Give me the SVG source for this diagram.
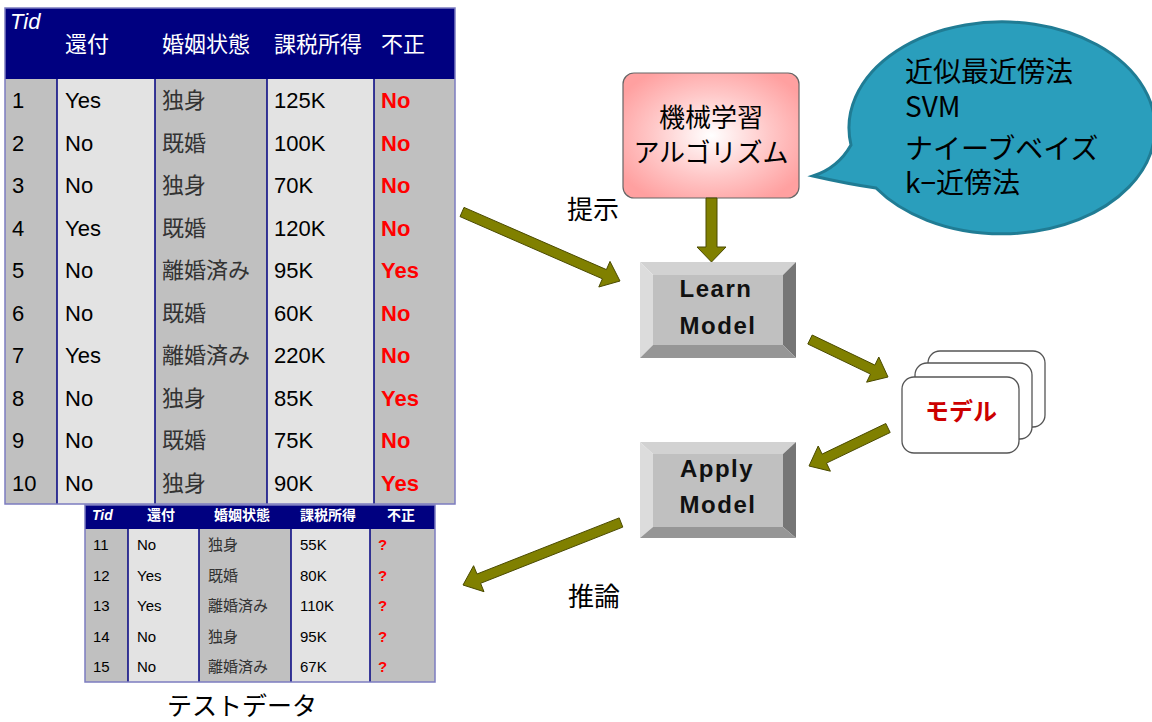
<svg xmlns="http://www.w3.org/2000/svg" width="1152" height="722" viewBox="0 0 1152 722">
<defs>
<radialGradient id="pink" cx="0.5" cy="0.5" r="0.6">
<stop offset="0" stop-color="#FFFFFF"/>
<stop offset="0.55" stop-color="#FFC8C8"/>
<stop offset="1" stop-color="#FFA0A0"/>
</radialGradient>
</defs>
<style>
.hd{fill:#000080}
.g{fill:#C0C0C0}
.l{fill:#E3E3E3}
.cl{stroke:#000080;stroke-width:1.5}
.ob{fill:none;stroke:#7C7CC0;stroke-width:1.5}
.ht{font-family:"Liberation Sans","Noto Sans CJK JP",sans-serif;font-size:22px;fill:#FFFFFF}
.t{font-family:"Liberation Sans","Noto Sans CJK JP",sans-serif;font-size:22px;fill:#000}
.tj{font-family:"Noto Sans CJK JP",sans-serif;font-size:22px;fill:#333}
.tr{font-family:"Liberation Sans",sans-serif;font-size:22px;fill:#FF0000;font-weight:bold}
.sht{font-family:"Liberation Sans","Noto Sans CJK JP",sans-serif;font-size:14px;fill:#FFFFFF;font-weight:bold}
.st{font-family:"Liberation Sans",sans-serif;font-size:15px;fill:#000}
.stj{font-family:"Noto Sans CJK JP",sans-serif;font-size:15px;fill:#333}
.str{font-family:"Liberation Sans",sans-serif;font-size:15px;fill:#FF0000;font-weight:bold}
.jp{font-family:"Noto Sans CJK JP",sans-serif;fill:#000}
.btn{font-family:"Liberation Sans",sans-serif;font-size:24px;font-weight:bold;fill:#111;letter-spacing:1.5px}
.arr{fill:#808000;stroke:#4A4A00;stroke-width:1}
.card{fill:#FFFFFF;stroke:#555;stroke-width:1.3}
</style>

<g id="train-table">
<rect x="5" y="8" width="450" height="71" class="hd"/>
<rect x="5" y="79" width="52" height="425" class="g"/>
<rect x="57" y="79" width="98" height="425" class="l"/>
<rect x="155" y="79" width="112" height="425" class="g"/>
<rect x="267" y="79" width="107" height="425" class="l"/>
<rect x="374" y="79" width="81" height="425" class="g"/>
<line x1="57" y1="79" x2="57" y2="504" class="cl"/>
<line x1="155" y1="79" x2="155" y2="504" class="cl"/>
<line x1="267" y1="79" x2="267" y2="504" class="cl"/>
<line x1="374" y1="79" x2="374" y2="504" class="cl"/>
<rect x="5" y="8" width="450" height="496" class="ob"/>
<text x="10" y="29" class="ht" font-style="italic" font-size="21">Tid</text>
<text x="65" y="52" class="ht">還付</text>
<text x="162" y="52" class="ht">婚姻状態</text>
<text x="274" y="52" class="ht">課税所得</text>
<text x="381" y="52" class="ht">不正</text>
<g>
<text x="12" y="108" class="t">1</text><text x="65" y="108" class="t">Yes</text><text x="162" y="108" class="tj">独身</text><text x="274" y="108" class="t">125K</text><text x="381" y="108" class="tr">No</text>
<text x="12" y="150.5" class="t">2</text><text x="65" y="150.5" class="t">No</text><text x="162" y="150.5" class="tj">既婚</text><text x="274" y="150.5" class="t">100K</text><text x="381" y="150.5" class="tr">No</text>
<text x="12" y="193" class="t">3</text><text x="65" y="193" class="t">No</text><text x="162" y="193" class="tj">独身</text><text x="274" y="193" class="t">70K</text><text x="381" y="193" class="tr">No</text>
<text x="12" y="235.5" class="t">4</text><text x="65" y="235.5" class="t">Yes</text><text x="162" y="235.5" class="tj">既婚</text><text x="274" y="235.5" class="t">120K</text><text x="381" y="235.5" class="tr">No</text>
<text x="12" y="278" class="t">5</text><text x="65" y="278" class="t">No</text><text x="162" y="278" class="tj">離婚済み</text><text x="274" y="278" class="t">95K</text><text x="381" y="278" class="tr">Yes</text>
<text x="12" y="320.5" class="t">6</text><text x="65" y="320.5" class="t">No</text><text x="162" y="320.5" class="tj">既婚</text><text x="274" y="320.5" class="t">60K</text><text x="381" y="320.5" class="tr">No</text>
<text x="12" y="363" class="t">7</text><text x="65" y="363" class="t">Yes</text><text x="162" y="363" class="tj">離婚済み</text><text x="274" y="363" class="t">220K</text><text x="381" y="363" class="tr">No</text>
<text x="12" y="405.5" class="t">8</text><text x="65" y="405.5" class="t">No</text><text x="162" y="405.5" class="tj">独身</text><text x="274" y="405.5" class="t">85K</text><text x="381" y="405.5" class="tr">Yes</text>
<text x="12" y="448" class="t">9</text><text x="65" y="448" class="t">No</text><text x="162" y="448" class="tj">既婚</text><text x="274" y="448" class="t">75K</text><text x="381" y="448" class="tr">No</text>
<text x="12" y="490.5" class="t">10</text><text x="65" y="490.5" class="t">No</text><text x="162" y="490.5" class="tj">独身</text><text x="274" y="490.5" class="t">90K</text><text x="381" y="490.5" class="tr">Yes</text>
</g>
</g>

<g id="test-table">
<rect x="85" y="505" width="350" height="24" class="hd"/>
<rect x="85" y="529" width="43" height="153" class="g"/>
<rect x="128" y="529" width="71" height="153" class="l"/>
<rect x="199" y="529" width="92" height="153" class="g"/>
<rect x="291" y="529" width="79" height="153" class="l"/>
<rect x="370" y="529" width="65" height="153" class="g"/>
<line x1="128" y1="529" x2="128" y2="682" class="cl"/>
<line x1="199" y1="529" x2="199" y2="682" class="cl"/>
<line x1="291" y1="529" x2="291" y2="682" class="cl"/>
<line x1="370" y1="529" x2="370" y2="682" class="cl"/>
<rect x="85" y="505" width="350" height="177" class="ob"/>
<text x="92" y="520" class="sht" font-style="italic">Tid</text>
<text x="147" y="520" class="sht">還付</text>
<text x="214" y="520" class="sht">婚姻状態</text>
<text x="300" y="520" class="sht">課税所得</text>
<text x="387" y="520" class="sht">不正</text>
<text x="93" y="550" class="st">11</text><text x="137" y="550" class="st">No</text><text x="208" y="550" class="stj">独身</text><text x="300" y="550" class="st">55K</text><text x="378" y="550" class="str">?</text>
<text x="93" y="580.5" class="st">12</text><text x="137" y="580.5" class="st">Yes</text><text x="208" y="580.5" class="stj">既婚</text><text x="300" y="580.5" class="st">80K</text><text x="378" y="580.5" class="str">?</text>
<text x="93" y="611" class="st">13</text><text x="137" y="611" class="st">Yes</text><text x="208" y="611" class="stj">離婚済み</text><text x="300" y="611" class="st">110K</text><text x="378" y="611" class="str">?</text>
<text x="93" y="641.5" class="st">14</text><text x="137" y="641.5" class="st">No</text><text x="208" y="641.5" class="stj">独身</text><text x="300" y="641.5" class="st">95K</text><text x="378" y="641.5" class="str">?</text>
<text x="93" y="672" class="st">15</text><text x="137" y="672" class="st">No</text><text x="208" y="672" class="stj">離婚済み</text><text x="300" y="672" class="st">67K</text><text x="378" y="672" class="str">?</text>
<text x="242" y="715" class="jp" font-size="25" text-anchor="middle">テストデータ</text>
</g>

<g id="ml-algorithm">
<rect x="623" y="73" width="176" height="125" rx="11" fill="url(#pink)" stroke="#666" stroke-width="1.2"/>
<text x="711" y="127" class="jp" font-size="26" text-anchor="middle">機械学習</text>
<text x="711" y="162" class="jp" font-size="26" text-anchor="middle">アルゴリズム</text>
</g>

<g id="algorithms-bubble">
<path d="M 851,145 Q 838,168 813,176 Q 848,184 876,188 A 153 106 0 1 0 851,145 Z" fill="#2A9EBC" stroke="#207C94" stroke-width="3"/>
<text x="905" y="82" class="jp" font-size="28">近似最近傍法</text>
<text x="905" y="117" class="jp" font-size="28">SVM</text>
<text x="905" y="159" class="jp" font-size="28">ナイーブベイズ</text>
<text x="905" y="193" class="jp" font-size="28">k−近傍法</text>
</g>

<g id="learn-model">
<polygon points="640,262 796,262 783,275 653,275" fill="#D2D2D2"/>
<polygon points="640,262 653,275 653,345 640,358" fill="#DCDCDC"/>
<polygon points="796,262 796,358 783,345 783,275" fill="#767676"/>
<polygon points="640,358 653,345 783,345 796,358" fill="#969696"/>
<rect x="653" y="275" width="130" height="70" fill="#C0C0C0"/>
<text x="716" y="297" class="btn" text-anchor="middle">Learn</text>
<text x="718" y="334" class="btn" text-anchor="middle">Model</text>
</g>

<g id="apply-model">
<polygon points="640,442 796,442 783,454 653,454" fill="#D2D2D2"/>
<polygon points="640,442 653,454 653,527 640,538" fill="#DCDCDC"/>
<polygon points="796,442 796,538 783,527 783,454" fill="#767676"/>
<polygon points="640,538 653,527 783,527 796,538" fill="#969696"/>
<rect x="653" y="454" width="130" height="73" fill="#C0C0C0"/>
<text x="717" y="477" class="btn" text-anchor="middle">Apply</text>
<text x="718" y="513" class="btn" text-anchor="middle">Model</text>
</g>

<g id="model">
<rect x="928" y="351" width="117" height="76" rx="12" class="card"/>
<rect x="915" y="363" width="117" height="76" rx="12" class="card"/>
<rect x="902" y="377" width="117" height="76" rx="12" class="card"/>
<text x="961" y="420" class="jp" font-size="24" font-weight="bold" text-anchor="middle" style="fill:#CC0000">モデル</text>
</g>

<g id="connectors">
<polygon class="arr" points="464.0,207.4 606.4,269.6 610.0,261.4 620,281 598.8,287.0 602.4,278.8 460.0,216.6"/>
<polygon class="arr" points="706,198 717,198 717,247 726,247 711.5,262 697,247 706,247"/>
<polygon class="arr" points="812.2,335.0 874.9,365.1 878.8,357.0 888,377 866.6,382.2 870.5,374.1 807.8,344.0"/>
<polygon class="arr" points="885.8,423.5 822.1,454.1 818.2,446.0 809,466 830.4,471.2 826.5,463.1 890.2,432.5"/>
<polygon class="arr" points="619.2,517.9 477.0,574.0 473.6,565.7 463,585 484.0,591.7 480.6,583.3 622.8,527.1"/>
<text x="567" y="219" class="jp" font-size="26">提示</text>
<text x="568" y="606" class="jp" font-size="26">推論</text>
</g>
</svg>
